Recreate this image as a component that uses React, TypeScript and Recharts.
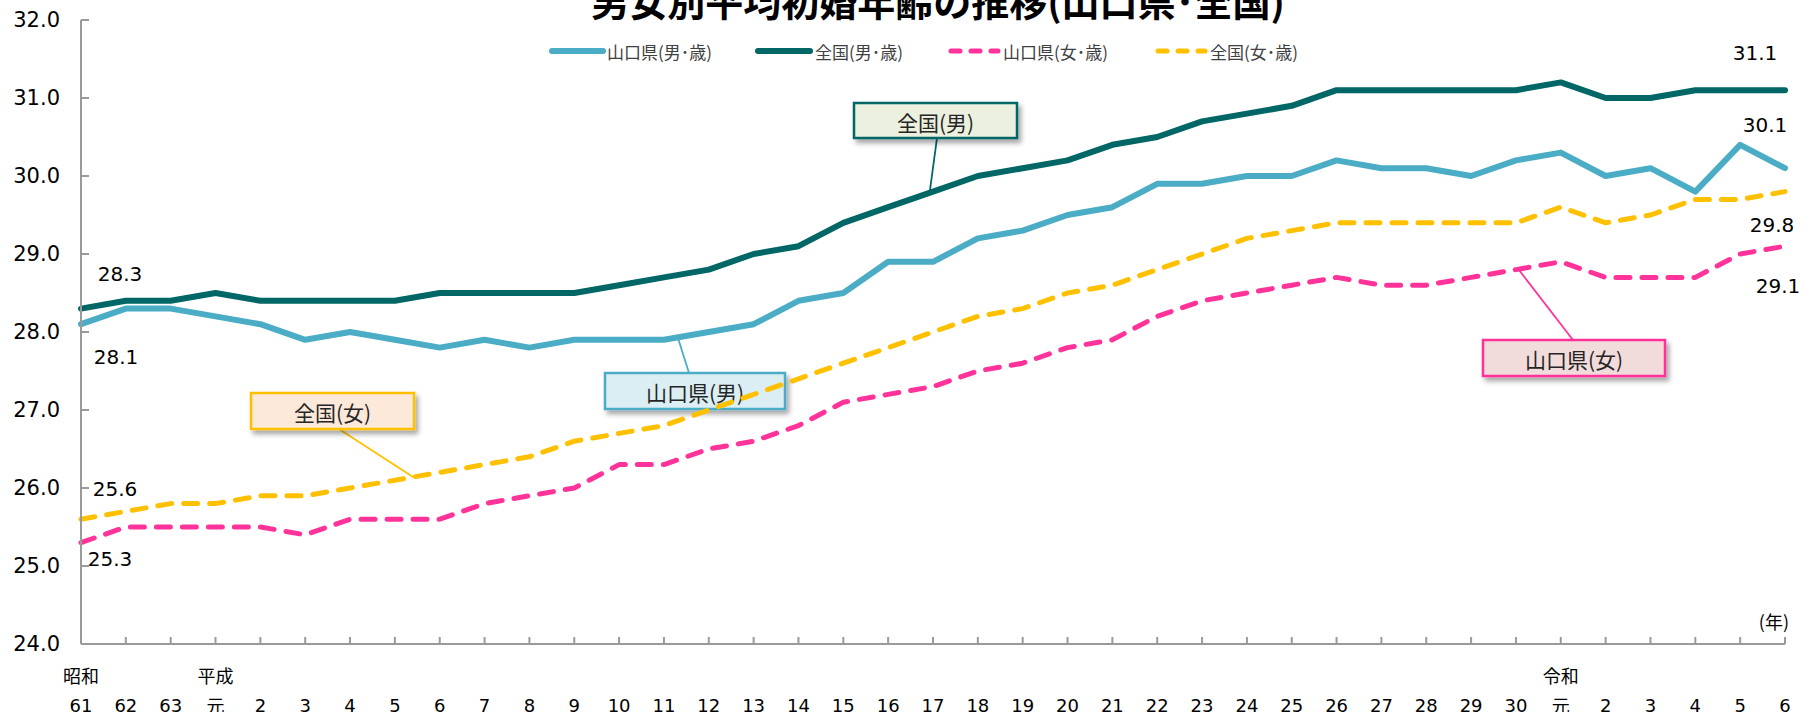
import React from 'react';
import { LineChart, Line, XAxis, YAxis, LabelList, Customized } from 'recharts';

const years = [
  'S61', 'S62', 'S63',
  'H1', 'H2', 'H3', 'H4', 'H5', 'H6', 'H7', 'H8', 'H9', 'H10',
  'H11', 'H12', 'H13', 'H14', 'H15', 'H16', 'H17', 'H18', 'H19', 'H20',
  'H21', 'H22', 'H23', 'H24', 'H25', 'H26', 'H27', 'H28', 'H29', 'H30',
  'R1', 'R2', 'R3', 'R4', 'R5', 'R6',
];
const eraLabels = [
  '昭和', '', '',
  '平成', '', '', '', '', '', '', '', '', '',
  '', '', '', '', '', '', '', '', '', '',
  '', '', '', '', '', '', '', '', '', '',
  '令和', '', '', '', '', '',
];
const yearLabels = [
  '61', '62', '63',
  '元', '2', '3', '4', '5', '6', '7', '8', '9', '10',
  '11', '12', '13', '14', '15', '16', '17', '18', '19', '20',
  '21', '22', '23', '24', '25', '26', '27', '28', '29', '30',
  '元', '2', '3', '4', '5', '6',
];
const yamaguchiMale = [
  28.1, 28.3, 28.3,
  28.2, 28.1, 27.9, 28.0, 27.9, 27.8, 27.9, 27.8, 27.9, 27.9,
  27.9, 28.0, 28.1, 28.4, 28.5, 28.9, 28.9, 29.2, 29.3, 29.5,
  29.6, 29.9, 29.9, 30.0, 30.0, 30.2, 30.1, 30.1, 30.0, 30.2,
  30.3, 30.0, 30.1, 29.8, 30.4, 30.1,
];
const nationalMale = [
  28.3, 28.4, 28.4,
  28.5, 28.4, 28.4, 28.4, 28.4, 28.5, 28.5, 28.5, 28.5, 28.6,
  28.7, 28.8, 29.0, 29.1, 29.4, 29.6, 29.8, 30.0, 30.1, 30.2,
  30.4, 30.5, 30.7, 30.8, 30.9, 31.1, 31.1, 31.1, 31.1, 31.1,
  31.2, 31.0, 31.0, 31.1, 31.1, 31.1,
];
const yamaguchiFemale = [
  25.3, 25.5, 25.5,
  25.5, 25.5, 25.4, 25.6, 25.6, 25.6, 25.8, 25.9, 26.0, 26.3,
  26.3, 26.5, 26.6, 26.8, 27.1, 27.2, 27.3, 27.5, 27.6, 27.8,
  27.9, 28.2, 28.4, 28.5, 28.6, 28.7, 28.6, 28.6, 28.7, 28.8,
  28.9, 28.7, 28.7, 28.7, 29.0, 29.1,
];
const nationalFemale = [
  25.6, 25.7, 25.8,
  25.8, 25.9, 25.9, 26.0, 26.1, 26.2, 26.3, 26.4, 26.6, 26.7,
  26.8, 27.0, 27.2, 27.4, 27.6, 27.8, 28.0, 28.2, 28.3, 28.5,
  28.6, 28.8, 29.0, 29.2, 29.3, 29.4, 29.4, 29.4, 29.4, 29.4,
  29.6, 29.4, 29.5, 29.7, 29.7, 29.8,
];
const yTicks = [24, 25, 26, 27, 28, 29, 30, 31, 32];

const seriesNames = ['山口県(男･歳)', '全国(男･歳)', '山口県(女･歳)', '全国(女･歳)'];

const data = years.map((k, i) => ({
  key: k,
  yamaM: yamaguchiMale[i],
  natM: nationalMale[i],
  yamaF: yamaguchiFemale[i],
  natF: nationalFemale[i],
}));

const W = 1802;
const H = 712;
const PLOT_LEFT = 81;
const PLOT_BOTTOM = 644;
const AXIS = '#9a9a9a';
const NUM_FONT = "'DejaVu Sans', 'Noto Sans CJK JP', sans-serif";
const JP_FONT = "'Noto Sans CJK JP', 'DejaVu Sans', sans-serif";

const series = [
  { key: 'yamaM', name: seriesNames[0], color: '#4BACC6', dashed: false, first: [35, 33], last: [-20, -43], lx: [552, 603], tx: 607 },
  { key: 'natM', name: seriesNames[1], color: '#006666', dashed: false, first: [39, -35], last: [-30, -37], lx: [758, 810], tx: 815 },
  { key: 'yamaF', name: seriesNames[2], color: '#FF3399', dashed: true, first: [29, 16], last: [-7, 40], lx: [951, 998], tx: 1003 },
  { key: 'natF', name: seriesNames[3], color: '#FFC000', dashed: true, first: [34, -30], last: [-13, 33], lx: [1158, 1205], tx: 1210 },
];

const callouts = [
  { text: '全国(男)', x: 854, y: 103, w: 163, h: 35, fill: '#EBF1DE', stroke: '#006666', l: [937, 138, 930, 190] },
  { text: '山口県(男)', x: 605, y: 373, w: 180, h: 36, fill: '#DAEEF3', stroke: '#4BACC6', l: [678, 338, 689, 373] },
  { text: '全国(女)', x: 251, y: 393, w: 163, h: 36, fill: '#FDE9D9', stroke: '#FFC000', l: [339, 429, 413, 477] },
  { text: '山口県(女)', x: 1483, y: 340, w: 182, h: 36, fill: '#F2DCDB', stroke: '#FF3399', l: [1573, 340, 1519, 270] },
];

const YTick = (props: any) => {
  const { y, payload } = props;
  return (
    <g>
      <line x1={PLOT_LEFT} x2={PLOT_LEFT + 8} y1={y} y2={y} stroke={AXIS} strokeWidth={2} />
      <text x={60} y={y} textAnchor="end" dominantBaseline="central" fontSize={21} fontFamily={NUM_FONT} fill="#000">
        {Number(payload.value).toFixed(1)}
      </text>
    </g>
  );
};

const XTick = (props: any) => {
  const { x, payload } = props;
  const i = years.indexOf(payload.value);
  return (
    <g>
      <line x1={x} x2={x} y1={PLOT_BOTTOM} y2={PLOT_BOTTOM - 7} stroke={AXIS} strokeWidth={2} />
      {eraLabels[i] ? (
        <text x={x} y={675} textAnchor="middle" dominantBaseline="central" fontSize={18} fontFamily={JP_FONT} fill="#000">
          {eraLabels[i]}
        </text>
      ) : null}
      <text x={x} y={705} textAnchor="middle" dominantBaseline="central" fontSize={18} fontFamily={yearLabels[i] === '元' ? JP_FONT : NUM_FONT} fill="#000">
        {yearLabels[i]}
      </text>
    </g>
  );
};

const makeEndLabel = (s: any) => (p: any) => {
  const { x, y, value, index } = p;
  let off: number[] | null = null;
  if (index === 0) off = s.first;
  else if (index === years.length - 1) off = s.last;
  if (!off) return null;
  return (
    <text x={x + off[0]} y={y + off[1]} textAnchor="middle" dominantBaseline="central" fontSize={20} fontFamily={NUM_FONT} fill="#000">
      {Number(value).toFixed(1)}
    </text>
  );
};

const Overlay = () => (
  <g>
    <defs>
      <filter id="boxShadow" x="-20%" y="-30%" width="150%" height="180%">
        <feDropShadow dx="3" dy="4" stdDeviation="2.5" floodColor="#000" floodOpacity="0.35" />
      </filter>
    </defs>
    <text x={938} y={16} textAnchor="middle" fontSize={38} fontWeight="bold" fontFamily={JP_FONT} fill="#000">
      男女別平均初婚年齢の推移(山口県･全国)
    </text>
    {series.map((s) => (
      <g key={s.key}>
        <line
          x1={s.lx[0]}
          x2={s.lx[1]}
          y1={51}
          y2={51}
          stroke={s.color}
          strokeWidth={s.dashed ? 5 : 6}
          strokeLinecap="round"
          strokeDasharray={s.dashed ? '9 11' : undefined}
        />
        <text x={s.tx} y={51} dominantBaseline="central" fontSize={17} fontFamily={JP_FONT} fill="#404040">
          {s.name}
        </text>
      </g>
    ))}
    {callouts.map((c) => (
      <g key={c.text}>
        <line x1={c.l[0]} y1={c.l[1]} x2={c.l[2]} y2={c.l[3]} stroke={c.stroke} strokeWidth={1.8} />
        <rect x={c.x} y={c.y} width={c.w} height={c.h} fill={c.fill} stroke={c.stroke} strokeWidth={2.5} filter="url(#boxShadow)" />
        <text x={c.x + c.w / 2} y={c.y + c.h / 2 + 1} textAnchor="middle" dominantBaseline="central" fontSize={21} fontFamily={JP_FONT} fill="#262626">
          {c.text}
        </text>
      </g>
    ))}
    <text x={1789} y={621} textAnchor="end" dominantBaseline="central" fontSize={18} fontFamily={JP_FONT} fill="#000">
      (年)
    </text>
  </g>
);

export default function App() {
  return (
    <div style={{ position: 'absolute', left: 0, top: 0, width: W, height: H, background: '#fff' }}>
      <LineChart width={W} height={H} data={data} margin={{ top: 20, right: 17, bottom: 0, left: 0 }}>
        <XAxis
          dataKey="key"
          interval={0}
          height={68}
          tickLine={false}
          axisLine={{ stroke: AXIS, strokeWidth: 2 }}
          tick={<XTick />}
        />
        <YAxis
          domain={[24, 32]}
          ticks={yTicks}
          width={81}
          tickLine={false}
          axisLine={{ stroke: AXIS, strokeWidth: 2 }}
          tick={<YTick />}
          allowDataOverflow
        />
        {series.map((s) => (
          <Line
            key={s.key}
            type="linear"
            dataKey={s.key}
            name={s.name}
            stroke={s.color}
            strokeWidth={s.dashed ? 5 : 6}
            strokeDasharray={s.dashed ? '14 12' : undefined}
            strokeLinecap="round"
            strokeLinejoin="round"
            dot={false}
            activeDot={false}
            isAnimationActive={false}
          >
            <LabelList dataKey={s.key} content={makeEndLabel(s)} />
          </Line>
        ))}
        <Customized component={Overlay} />
      </LineChart>
    </div>
  );
}
